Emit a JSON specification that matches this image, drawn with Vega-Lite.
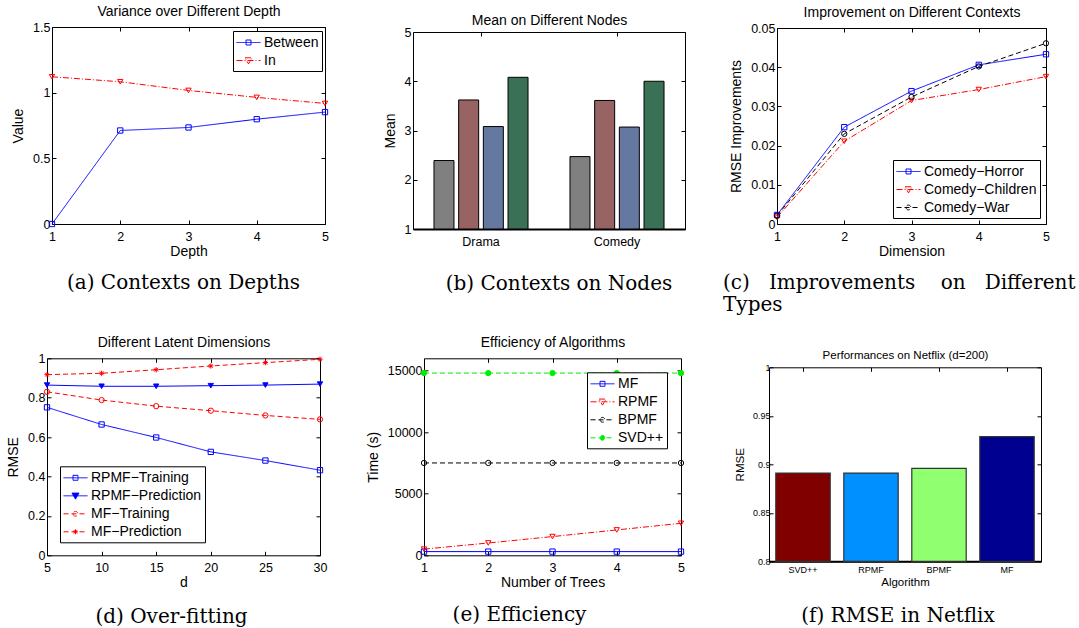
{
  "padding": {"left": 6, "top": 4, "right": 0, "bottom": 0},
  "bounds": "flush",
  "spacing": 331.3,
  "resolve": {"scale": {"color": "independent", "strokeDash": "independent", "shape": "independent", "fill": "independent"}},
  "vconcat": [
    {
      "bounds": "flush", "spacing": 0,
      "resolve": {"scale": {"color": "independent", "strokeDash": "independent", "shape": "independent", "fill": "independent"}},
      "hconcat": [
        {"width": 4.3, "height": 1, "data": {"values": []}, "mark": "point", "view": {"stroke": null}},
        {
          "width": 273, "height": 197,
          "title": {"text": "(a) Contexts on Depths", "orient": "bottom", "offset": 14, "frame": "group", "dx": -5},
          "data": {"values": [
            {"depth": 1, "series": "Between", "value": 0},
            {"depth": 2, "series": "Between", "value": 0.712},
            {"depth": 3, "series": "Between", "value": 0.735},
            {"depth": 4, "series": "Between", "value": 0.798},
            {"depth": 5, "series": "Between", "value": 0.852},
            {"depth": 1, "series": "In", "value": 1.121},
            {"depth": 2, "series": "In", "value": 1.083},
            {"depth": 3, "series": "In", "value": 1.017},
            {"depth": 4, "series": "In", "value": 0.964},
            {"depth": 5, "series": "In", "value": 0.918}
          ]},
          "layer": [
            {
              "mark": {"type": "line", "strokeWidth": 1},
              "encoding": {
                "x": {"field": "depth", "type": "quantitative", "scale": {"domain": [1, 5], "nice": false, "zero": false}, "axis": {"orient": "bottom", "title": "Depth", "values": [1, 2, 3, 4, 5]}},
                "y": {"field": "value", "type": "quantitative", "scale": {"domain": [0, 1.5], "nice": false}, "axis": {"orient": "left", "title": "Value", "values": [0, 0.5, 1, 1.5], "format": "~g"}},
                "color": {"field": "series", "type": "nominal", "scale": {"domain": ["Between", "In"], "range": ["#0000ff", "#ff0000"]},
                  "legend": {"title": null, "orient": "top-right", "offset": 3.5,
                    "encode": {"symbols": {"update": {"shape": {"signal": "datum.value === 'Between' ? 'M-1.5,0H1.5M-0.31,-0.31H0.31V0.31H-0.31Z' : 'M-1.5,0H1.5M-0.44,-0.34H0.44L0,0.42Z'"}, "fill": {"value": "transparent"}}}}}},
                "strokeDash": {"field": "series", "type": "nominal", "scale": {"domain": ["Between", "In"], "range": [[1, 0], [6, 2, 1, 2]]}}
              }
            },
            {
              "mark": {"type": "point", "filled": false, "strokeWidth": 1, "opacity": 1},
              "encoding": {
                "x": {"field": "depth", "type": "quantitative", "scale": {"domain": [1, 5], "nice": false, "zero": false}, "axis": {"orient": "top", "labels": false, "title": "Variance over Different Depth", "values": [1, 2, 3, 4, 5], "titlePadding": 8}},
                "y": {"field": "value", "type": "quantitative", "scale": {"domain": [0, 1.5], "nice": false}, "axis": {"orient": "right", "labels": false, "title": null, "values": [0, 0.5, 1, 1.5]}},
                "color": {"field": "series", "type": "nominal", "scale": {"domain": ["Between", "In"], "range": ["#0000ff", "#ff0000"]}},
                "shape": {"field": "series", "type": "nominal", "scale": {"domain": ["In", "Between"], "range": ["triangle-down", "square"]}, "legend": null},
                "size": {"value": 28}
              }
            }
          ],
          "resolve": {"axis": {"x": "independent", "y": "independent"}}
        },
        {"width": 87.7, "height": 1, "data": {"values": []}, "mark": "point", "view": {"stroke": null}},
        {
          "bounds": "flush", "spacing": 0,
          "resolve": {"scale": {"color": "independent", "strokeDash": "independent", "shape": "independent", "fill": "independent"}},
          "vconcat": [
            {"width": 1, "height": 5, "data": {"values": []}, "mark": "point", "view": {"stroke": null}},
            {
              "width": 272, "height": 197,
              "title": {"text": "(b) Contexts on Nodes", "orient": "bottom", "offset": 26, "frame": "group", "dx": 10},
              "data": {"values": [
                {"genre": "Drama", "node": "Node 1", "mean": 2.39},
                {"genre": "Drama", "node": "Node 2", "mean": 3.62},
                {"genre": "Drama", "node": "Node 3", "mean": 3.08},
                {"genre": "Drama", "node": "Node 4", "mean": 4.08},
                {"genre": "Comedy", "node": "Node 1", "mean": 2.47},
                {"genre": "Comedy", "node": "Node 2", "mean": 3.61},
                {"genre": "Comedy", "node": "Node 3", "mean": 3.07},
                {"genre": "Comedy", "node": "Node 4", "mean": 4.0}
              ]},
              "layer": [
                {
                  "mark": {"type": "bar", "strokeWidth": 0},
                  "encoding": {
                    "x": {"field": "genre", "type": "nominal", "sort": ["Drama", "Comedy"], "scale": {"paddingInner": 0, "paddingOuter": 0}, "axis": {"orient": "bottom", "title": null, "labelAngle": 0, "ticks": false, "domain": true, "domainColor": "black", "domainWidth": 2, "labelPadding": 6}},
                    "xOffset": {"field": "node", "type": "nominal", "scale": {"paddingInner": 0.19, "paddingOuter": 0.85}},
                    "y": {"field": "mean", "type": "quantitative", "scale": {"domain": [1, 5], "nice": false, "zero": false}, "axis": {"orient": "left", "title": "Mean", "values": [1, 2, 3, 4, 5]}},
                    "y2": {"datum": 1},
                    "color": {"field": "node", "type": "nominal", "scale": {"domain": ["Node 1", "Node 2", "Node 3", "Node 4"], "range": ["#808080", "#986363", "#6478a0", "#3a7055"]}, "legend": null}
                  }
                },
                {
                  "mark": {"type": "bar", "fill": "transparent", "stroke": "black", "strokeWidth": 1},
                  "encoding": {
                    "x": {"field": "genre", "type": "nominal", "sort": ["Drama", "Comedy"], "scale": {"paddingInner": 0, "paddingOuter": 0}, "axis": {"orient": "top", "labels": false, "title": "Mean on Different Nodes", "titlePadding": 4}},
                    "xOffset": {"field": "node", "type": "nominal", "scale": {"paddingInner": 0.19, "paddingOuter": 0.85}},
                    "y": {"field": "mean", "type": "quantitative", "scale": {"domain": [1, 5], "nice": false, "zero": false}, "axis": {"orient": "right", "labels": false, "title": null, "values": [1, 2, 3, 4, 5]}},
                    "y2": {"datum": 1}
                  }
                }
              ],
              "resolve": {"axis": {"x": "independent", "y": "independent"}}
            }
          ]
        },
        {"width": 364, "height": 1, "data": {"values": []}, "mark": "point", "view": {"stroke": null}},
        {
          "bounds": "flush", "spacing": 0,
          "resolve": {"scale": {"color": "independent", "strokeDash": "independent", "shape": "independent", "fill": "independent"}},
          "vconcat": [
            {"width": 1, "height": 1, "data": {"values": []}, "mark": "point", "view": {"stroke": null}},
            {
              "width": 269, "height": 196,
              "title": {"text": ["(c)\u00a0\u00a0\u00a0Improvements\u00a0\u00a0\u00a0\u00a0on\u00a0\u00a0\u00a0Different", "Types"], "orient": "bottom", "offset": 14, "frame": "group", "anchor": "start", "dx": -54, "lineHeight": 22},
              "data": {"values": [
                {"dim": 1, "series": "Comedy\u2212Horror", "value": 0.0023},
                {"dim": 2, "series": "Comedy\u2212Horror", "value": 0.0247},
                {"dim": 3, "series": "Comedy\u2212Horror", "value": 0.0339},
                {"dim": 4, "series": "Comedy\u2212Horror", "value": 0.0406},
                {"dim": 5, "series": "Comedy\u2212Horror", "value": 0.0433},
                {"dim": 1, "series": "Comedy\u2212Children", "value": 0.0017},
                {"dim": 2, "series": "Comedy\u2212Children", "value": 0.0211},
                {"dim": 3, "series": "Comedy\u2212Children", "value": 0.0315},
                {"dim": 4, "series": "Comedy\u2212Children", "value": 0.0343},
                {"dim": 5, "series": "Comedy\u2212Children", "value": 0.0376},
                {"dim": 1, "series": "Comedy\u2212War", "value": 0.0021},
                {"dim": 2, "series": "Comedy\u2212War", "value": 0.0230},
                {"dim": 3, "series": "Comedy\u2212War", "value": 0.0324},
                {"dim": 4, "series": "Comedy\u2212War", "value": 0.0402},
                {"dim": 5, "series": "Comedy\u2212War", "value": 0.0461}
              ]},
              "layer": [
                {
                  "mark": {"type": "line", "strokeWidth": 1},
                  "encoding": {
                    "x": {"field": "dim", "type": "quantitative", "scale": {"domain": [1, 5], "nice": false, "zero": false}, "axis": {"orient": "bottom", "title": "Dimension", "values": [1, 2, 3, 4, 5]}},
                    "y": {"field": "value", "type": "quantitative", "scale": {"domain": [0, 0.05], "nice": false}, "axis": {"orient": "left", "title": "RMSE Improvements", "values": [0, 0.01, 0.02, 0.03, 0.04, 0.05], "format": "~g"}},
                    "color": {"field": "series", "type": "nominal", "scale": {"domain": ["Comedy\u2212Horror", "Comedy\u2212Children", "Comedy\u2212War"], "range": ["#0000ff", "#ff0000", "#000000"]},
                      "legend": {"title": null, "orient": "bottom-right", "offset": 6,
                        "encode": {"symbols": {"update": {"shape": {"signal": "datum.value === 'Comedy\u2212Horror' ? 'M-1.5,0H1.5M-0.31,-0.31H0.31V0.31H-0.31Z' : datum.value === 'Comedy\u2212Children' ? 'M-1.5,0H1.5M-0.44,-0.34H0.44L0,0.42Z' : 'M-1.5,0H1.5M-0.3,0A0.3,0.3,0,1,0,0.3,0A0.3,0.3,0,1,0,-0.3,0'"}, "fill": {"value": "transparent"}}}}}},
                    "strokeDash": {"field": "series", "type": "nominal", "scale": {"domain": ["Comedy\u2212Horror", "Comedy\u2212Children", "Comedy\u2212War"], "range": [[1, 0], [6, 2, 1, 2], [5, 3]]}}
                  }
                },
                {
                  "mark": {"type": "point", "filled": false, "strokeWidth": 1, "opacity": 1},
                  "encoding": {
                    "x": {"field": "dim", "type": "quantitative", "scale": {"domain": [1, 5], "nice": false, "zero": false}, "axis": {"orient": "top", "labels": false, "title": "Improvement on Different Contexts", "values": [1, 2, 3, 4, 5], "titlePadding": 8}},
                    "y": {"field": "value", "type": "quantitative", "scale": {"domain": [0, 0.05], "nice": false}, "axis": {"orient": "right", "labels": false, "title": null, "values": [0, 0.01, 0.02, 0.03, 0.04, 0.05]}},
                    "color": {"field": "series", "type": "nominal", "scale": {"domain": ["Comedy\u2212Horror", "Comedy\u2212Children", "Comedy\u2212War"], "range": ["#0000ff", "#ff0000", "#000000"]}},
                    "shape": {"field": "series", "type": "nominal", "scale": {"domain": ["Comedy\u2212War", "Comedy\u2212Children", "Comedy\u2212Horror"], "range": ["circle", "triangle-down", "square"]}, "legend": null},
                    "size": {"value": 28}
                  }
                }
              ],
              "resolve": {"axis": {"x": "independent", "y": "independent"}}
            }
          ]
        }
      ]
    },
    {
      "bounds": "flush", "spacing": 0,
      "resolve": {"scale": {"color": "independent", "strokeDash": "independent", "shape": "independent", "fill": "independent"}},
      "hconcat": [
        {
          "width": 273, "height": 197,
          "title": {"text": "(d) Over-fitting", "orient": "bottom", "offset": 17, "frame": "group", "dx": -12},
          "data": {"values": [
            {"d": 5, "series": "RPMF\u2212Training", "value": 0.751},
            {"d": 10, "series": "RPMF\u2212Training", "value": 0.664},
            {"d": 15, "series": "RPMF\u2212Training", "value": 0.598},
            {"d": 20, "series": "RPMF\u2212Training", "value": 0.525},
            {"d": 25, "series": "RPMF\u2212Training", "value": 0.481},
            {"d": 30, "series": "RPMF\u2212Training", "value": 0.432},
            {"d": 5, "series": "RPMF\u2212Prediction", "value": 0.864},
            {"d": 10, "series": "RPMF\u2212Prediction", "value": 0.858},
            {"d": 15, "series": "RPMF\u2212Prediction", "value": 0.858},
            {"d": 20, "series": "RPMF\u2212Prediction", "value": 0.861},
            {"d": 25, "series": "RPMF\u2212Prediction", "value": 0.864},
            {"d": 30, "series": "RPMF\u2212Prediction", "value": 0.869},
            {"d": 5, "series": "MF\u2212Training", "value": 0.830},
            {"d": 10, "series": "MF\u2212Training", "value": 0.788},
            {"d": 15, "series": "MF\u2212Training", "value": 0.757},
            {"d": 20, "series": "MF\u2212Training", "value": 0.734},
            {"d": 25, "series": "MF\u2212Training", "value": 0.710},
            {"d": 30, "series": "MF\u2212Training", "value": 0.690},
            {"d": 5, "series": "MF\u2212Prediction", "value": 0.917},
            {"d": 10, "series": "MF\u2212Prediction", "value": 0.924},
            {"d": 15, "series": "MF\u2212Prediction", "value": 0.942},
            {"d": 20, "series": "MF\u2212Prediction", "value": 0.961},
            {"d": 25, "series": "MF\u2212Prediction", "value": 0.978},
            {"d": 30, "series": "MF\u2212Prediction", "value": 0.995}
          ]},
          "layer": [
            {
              "mark": {"type": "line", "strokeWidth": 1},
              "encoding": {
                "x": {"field": "d", "type": "quantitative", "scale": {"domain": [5, 30], "nice": false, "zero": false}, "axis": {"orient": "bottom", "title": "d", "values": [5, 10, 15, 20, 25, 30]}},
                "y": {"field": "value", "type": "quantitative", "scale": {"domain": [0, 1], "nice": false}, "axis": {"orient": "left", "title": "RMSE", "values": [0, 0.2, 0.4, 0.6, 0.8, 1], "format": "~g"}},
                "color": {"field": "series", "type": "nominal", "scale": {"domain": ["RPMF\u2212Training", "RPMF\u2212Prediction", "MF\u2212Training", "MF\u2212Prediction"], "range": ["#0000ff", "#0000ff", "#ff0000", "#ff0000"]},
                  "legend": {"title": null, "orient": "bottom-left", "offset": 13,
                    "encode": {"symbols": {"update": {"shape": {"signal": "datum.value === 'RPMF\u2212Training' ? 'M-1.5,0H1.5M-0.31,-0.31H0.31V0.31H-0.31Z' : datum.value === 'RPMF\u2212Prediction' ? 'M-1.5,0H1.5M-0.44,-0.34H0.44L0,0.42Z' : datum.value === 'MF\u2212Training' ? 'M-1.5,0H1.5M-0.3,0A0.3,0.3,0,1,0,0.3,0A0.3,0.3,0,1,0,-0.3,0' : 'M-1.5,0H1.5M-0.3,0H0.3M0,-0.3V0.3M-0.22,-0.22L0.22,0.22M-0.22,0.22L0.22,-0.22'"}, "fill": {"signal": "datum.value === 'RPMF\u2212Prediction' ? '#0000ff' : 'transparent'"}}}}}},
                "strokeDash": {"field": "series", "type": "nominal", "scale": {"domain": ["RPMF\u2212Training", "RPMF\u2212Prediction", "MF\u2212Training", "MF\u2212Prediction"], "range": [[1, 0], [1, 0], [5, 3], [5, 3]]}}
              }
            },
            {
              "mark": {"type": "point", "filled": false, "strokeWidth": 1, "opacity": 1},
              "encoding": {
                "x": {"field": "d", "type": "quantitative", "scale": {"domain": [5, 30], "nice": false, "zero": false}, "axis": {"orient": "top", "labels": false, "title": "Different Latent Dimensions", "values": [5, 10, 15, 20, 25, 30], "titlePadding": 8}},
                "y": {"field": "value", "type": "quantitative", "scale": {"domain": [0, 1], "nice": false}, "axis": {"orient": "right", "labels": false, "title": null, "values": [0, 0.2, 0.4, 0.6, 0.8, 1]}},
                "color": {"field": "series", "type": "nominal", "scale": {"domain": ["RPMF\u2212Training", "RPMF\u2212Prediction", "MF\u2212Training", "MF\u2212Prediction"], "range": ["#0000ff", "#0000ff", "#ff0000", "#ff0000"]}},
                "fill": {"field": "series", "type": "nominal", "scale": {"domain": ["MF\u2212Prediction", "MF\u2212Training", "RPMF\u2212Prediction", "RPMF\u2212Training"], "range": ["transparent", "transparent", "#0000ff", "transparent"]}, "legend": null},
                "shape": {"field": "series", "type": "nominal", "scale": {"domain": ["MF\u2212Prediction", "MF\u2212Training", "RPMF\u2212Prediction", "RPMF\u2212Training"], "range": ["M-1,0H1M0,-1V1M-0.7,-0.7L0.7,0.7M-0.7,0.7L0.7,-0.7", "circle", "triangle-down", "square"]}, "legend": null},
                "size": {"value": 28}
              }
            }
          ],
          "resolve": {"axis": {"x": "independent", "y": "independent"}}
        },
        {"width": 103.3, "height": 1, "data": {"values": []}, "mark": "point", "view": {"stroke": null}},
        {
          "width": 257, "height": 197,
          "title": {"text": "(e) Efficiency", "orient": "bottom", "offset": 15, "frame": "group", "dx": -33},
          "data": {"values": [
            {"trees": 1, "series": "MF", "time": 300},
            {"trees": 2, "series": "MF", "time": 300},
            {"trees": 3, "series": "MF", "time": 300},
            {"trees": 4, "series": "MF", "time": 300},
            {"trees": 5, "series": "MF", "time": 300},
            {"trees": 1, "series": "RPMF", "time": 500},
            {"trees": 2, "series": "RPMF", "time": 1000},
            {"trees": 3, "series": "RPMF", "time": 1520},
            {"trees": 4, "series": "RPMF", "time": 2060},
            {"trees": 5, "series": "RPMF", "time": 2600},
            {"trees": 1, "series": "BPMF", "time": 7500},
            {"trees": 2, "series": "BPMF", "time": 7500},
            {"trees": 3, "series": "BPMF", "time": 7500},
            {"trees": 4, "series": "BPMF", "time": 7500},
            {"trees": 5, "series": "BPMF", "time": 7500},
            {"trees": 1, "series": "SVD++", "time": 14800},
            {"trees": 2, "series": "SVD++", "time": 14800},
            {"trees": 3, "series": "SVD++", "time": 14800},
            {"trees": 4, "series": "SVD++", "time": 14800},
            {"trees": 5, "series": "SVD++", "time": 14800}
          ]},
          "layer": [
            {
              "mark": {"type": "line", "strokeWidth": 1},
              "encoding": {
                "x": {"field": "trees", "type": "quantitative", "scale": {"domain": [1, 5], "nice": false, "zero": false}, "axis": {"orient": "bottom", "title": "Number of Trees", "values": [1, 2, 3, 4, 5]}},
                "y": {"field": "time", "type": "quantitative", "scale": {"domain": [0, 16000], "nice": false}, "axis": {"orient": "left", "title": "Time (s)", "values": [0, 5000, 10000, 15000], "format": "d"}},
                "color": {"field": "series", "type": "nominal", "scale": {"domain": ["MF", "RPMF", "BPMF", "SVD++"], "range": ["#0000ff", "#ff0000", "#000000", "#00ee00"]},
                  "legend": {"title": null, "orient": "top-right", "offset": 14,
                    "encode": {"symbols": {"update": {"shape": {"signal": "datum.value === 'MF' ? 'M-1.5,0H1.5M-0.31,-0.31H0.31V0.31H-0.31Z' : datum.value === 'RPMF' ? 'M-1.5,0H1.5M-0.44,-0.34H0.44L0,0.42Z' : 'M-1.5,0H1.5M-0.3,0A0.3,0.3,0,1,0,0.3,0A0.3,0.3,0,1,0,-0.3,0'"}, "fill": {"signal": "datum.value === 'SVD++' ? '#00ee00' : 'transparent'"}}}}}},
                "strokeDash": {"field": "series", "type": "nominal", "scale": {"domain": ["MF", "RPMF", "BPMF", "SVD++"], "range": [[1, 0], [6, 2, 1, 2], [5, 3], [5, 3]]}}
              }
            },
            {
              "mark": {"type": "point", "filled": false, "strokeWidth": 1, "opacity": 1},
              "encoding": {
                "x": {"field": "trees", "type": "quantitative", "scale": {"domain": [1, 5], "nice": false, "zero": false}, "axis": {"orient": "top", "labels": false, "title": "Efficiency of Algorithms", "values": [1, 2, 3, 4, 5], "titlePadding": 8}},
                "y": {"field": "time", "type": "quantitative", "scale": {"domain": [0, 16000], "nice": false}, "axis": {"orient": "right", "labels": false, "title": null, "values": [0, 5000, 10000, 15000]}},
                "color": {"field": "series", "type": "nominal", "scale": {"domain": ["MF", "RPMF", "BPMF", "SVD++"], "range": ["#0000ff", "#ff0000", "#000000", "#00ee00"]}},
                "fill": {"field": "series", "type": "nominal", "scale": {"domain": ["SVD++", "BPMF", "RPMF", "MF"], "range": ["#00ee00", "transparent", "transparent", "transparent"]}, "legend": null},
                "shape": {"field": "series", "type": "nominal", "scale": {"domain": ["SVD++", "BPMF", "RPMF", "MF"], "range": ["circle", "circle", "triangle-down", "square"]}, "legend": null},
                "size": {"value": 28}
              }
            }
          ],
          "resolve": {"axis": {"x": "independent", "y": "independent"}}
        },
        {"width": 87.6, "height": 1, "data": {"values": []}, "mark": "point", "view": {"stroke": null}},
        {
          "bounds": "flush", "spacing": 0,
          "resolve": {"scale": {"color": "independent", "strokeDash": "independent", "shape": "independent", "fill": "independent"}},
          "vconcat": [
            {"width": 1, "height": 9, "data": {"values": []}, "mark": "point", "view": {"stroke": null}},
            {
              "width": 272, "height": 194,
              "title": {"text": "(f) RMSE in Netflix", "orient": "bottom", "offset": 18, "frame": "group", "dx": -7},
              "data": {"values": [
                {"algorithm": "SVD++", "rmse": 0.891},
                {"algorithm": "RPMF", "rmse": 0.891},
                {"algorithm": "BPMF", "rmse": 0.8957},
                {"algorithm": "MF", "rmse": 0.9286}
              ]},
              "layer": [
                {
                  "mark": {"type": "bar", "strokeWidth": 0},
                  "encoding": {
                    "x": {"field": "algorithm", "type": "nominal", "sort": ["SVD++", "RPMF", "BPMF", "MF"], "scale": {"paddingInner": 0.2, "paddingOuter": 0.1}, "axis": {"orient": "bottom", "title": "Algorithm", "labelAngle": 0, "ticks": false, "domain": true, "domainColor": "black", "domainWidth": 2, "labelFontSize": 9, "titleFontSize": 11.5, "labelPadding": 4}},
                    "y": {"field": "rmse", "type": "quantitative", "scale": {"domain": [0.8, 1], "nice": false, "zero": false}, "axis": {"orient": "left", "title": "RMSE", "values": [0.8, 0.85, 0.9, 0.95, 1], "format": "~g", "labelFontSize": 9, "titleFontSize": 11.5, "labelPadding": 3}},
                    "y2": {"datum": 0.8},
                    "color": {"field": "algorithm", "type": "nominal", "scale": {"domain": ["SVD++", "RPMF", "BPMF", "MF"], "range": ["#800000", "#0090ff", "#90ff70", "#000090"]}, "legend": null}
                  }
                },
                {
                  "mark": {"type": "bar", "fill": "transparent", "stroke": "#333333", "strokeWidth": 1.2},
                  "encoding": {
                    "x": {"field": "algorithm", "type": "nominal", "sort": ["SVD++", "RPMF", "BPMF", "MF"], "scale": {"paddingInner": 0.2, "paddingOuter": 0.1}, "axis": {"orient": "top", "labels": false, "title": "Performances on Netflix (d=200)", "titlePadding": 6, "titleFontSize": 11.5}},
                    "y": {"field": "rmse", "type": "quantitative", "scale": {"domain": [0.8, 1], "nice": false, "zero": false}, "axis": {"orient": "right", "labels": false, "title": null, "values": [0.8, 0.85, 0.9, 0.95, 1]}},
                    "y2": {"datum": 0.8}
                  }
                }
              ],
              "resolve": {"axis": {"x": "independent", "y": "independent"}}
            }
          ]
        }
      ]
    }
  ],
  "config": {
    "font": "Liberation Sans",
    "background": "white",
    "view": {"stroke": "black", "strokeWidth": 1},
    "axis": {"grid": false, "domain": false, "ticks": true, "tickColor": "black", "tickSize": -4, "labelColor": "black", "titleColor": "black", "labelFont": "Liberation Sans", "titleFont": "Liberation Sans", "labelFontSize": 12.5, "titleFontSize": 14, "titleFontWeight": "normal", "labelFlush": false, "labelOverlap": false},
    "axisBottom": {"labelPadding": 10, "titlePadding": 2},
    "axisLeft": {"labelPadding": 6, "titlePadding": 7},
    "axisTop": {"titlePadding": 8},
    "title": {"font": "DejaVu Serif", "fontSize": 20, "fontWeight": "normal", "color": "black"},
    "legend": {"fillColor": "white", "strokeColor": "black", "padding": 3, "cornerRadius": 0, "symbolSize": 256, "symbolOffset": 4, "labelOffset": 7, "rowPadding": 2, "labelFontSize": 14, "labelFont": "Liberation Sans", "labelColor": "black", "symbolStrokeWidth": 1, "labelLimit": 300}
  }
}
